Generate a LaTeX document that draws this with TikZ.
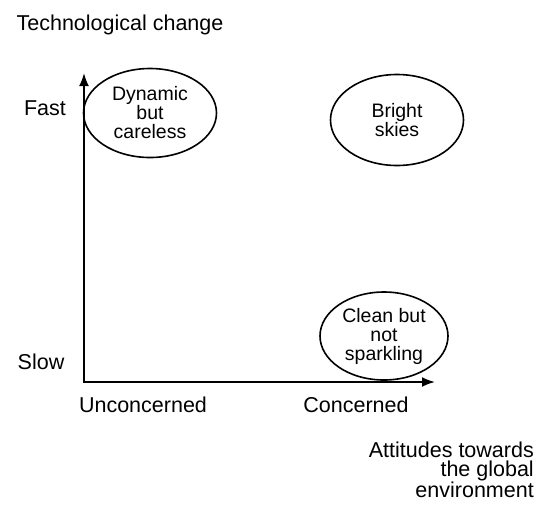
\documentclass[tikz,border=0pt]{standalone}
\usepackage{fontspec}
\setmainfont{Liberation Sans}
\usetikzlibrary{shapes,arrows.meta,positioning}

\begin{document}
\begin{tikzpicture}[x=1pt, y=-1pt,
    oval/.style={ellipse, draw, line width=1.6pt, inner sep=0pt, minimum width=133pt, minimum height=89pt, align=center, font=\fontsize{19.5}{19}\selectfont},
    lbl/.style={inner sep=0pt, font=\fontsize{21.5}{19.5}\selectfont},
    axis/.style={line width=1.9pt, {Latex[length=13pt,width=10pt]}-{Latex[length=13pt,width=10pt]}}
]
    \useasboundingbox (0,0) rectangle (538,504);

    % axes
    \coordinate (origin) at (84,382);
    \coordinate (ytip) at (84,73);
    \coordinate (xtip) at (435,382);
    \draw[axis] (ytip) -- (origin) -- (xtip);

    % axis labels
    \node[lbl] (ytitle) at (120,25) {Technological change};
    \node[lbl] (fast) at (45,108) {Fast};
    \node[lbl] (slow) at (41,362) {Slow};
    \node[lbl] (unconc) at (143,405) {Unconcerned};
    \node[lbl] (conc) at (356,405) {Concerned};
    \node[lbl, anchor=east, align=right] (xtitle) at (534,470) {Attitudes towards\\the global\\environment};

    % scenarios
    \node[oval] (dynamic) at (150,113) {Dynamic\\but\\careless};
    \node[oval, minimum height=91pt] (bright) at (397,120) {Bright\\skies};
    \node[oval, minimum width=128pt, minimum height=88pt] (clean) at (384,336) {Clean but\\not\\sparkling};
\end{tikzpicture}
\end{document}
